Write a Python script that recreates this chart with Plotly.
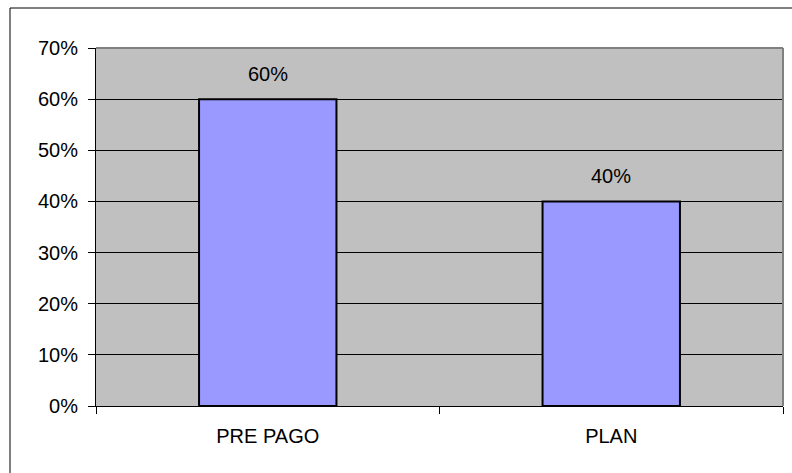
import plotly.graph_objects as go

categories = ["PRE PAGO", "PLAN"]
values = [0.60, 0.40]
labels = ["60%", "40%"]

W, H = 792, 473
L, R, T, B = 96, 9, 48, 67
pw, ph = W - L - R, H - T - B

fig = go.Figure()
fig.add_trace(go.Bar(
    x=categories, y=values,
    marker=dict(color="#9999FF", line=dict(color="#000000", width=2)),
    hoverinfo="skip",
))

for c, v, t in zip(categories, values, labels):
    fig.add_annotation(x=c, y=v, text=t, showarrow=False, yanchor="bottom",
                       yshift=12, font=dict(size=20, color="#000000"))

font = "Arial, Liberation Sans, sans-serif"
fig.update_layout(
    width=W, height=H,
    margin=dict(l=L, r=R, t=T, b=B, pad=0),
    paper_bgcolor="#FFFFFF",
    plot_bgcolor="#C0C0C0",
    font=dict(family=font, size=20, color="#000000"),
    bargap=0.6,
    showlegend=False,
    xaxis=dict(
        type="category", tickson="boundaries", ticks="outside", ticklen=7,
        tickcolor="#000000", tickwidth=1, showline=True, linecolor="#000000",
        linewidth=1, showgrid=False, tickfont=dict(size=20), fixedrange=True,
        ticklabelstandoff=12,
    ),
    yaxis=dict(
        range=[0, 0.7], dtick=0.1, tickformat=".0%", ticks="outside", ticklen=7,
        tickcolor="#000000", tickwidth=1, showline=True, linecolor="#000000",
        linewidth=1, showgrid=True, gridcolor="#000000", gridwidth=1,
        zeroline=False, tickfont=dict(size=20), fixedrange=True,
        ticklabelstandoff=6,
    ),
    shapes=[
        dict(type="line", xref="paper", yref="paper", x0=0, x1=1, y0=1, y1=1,
             line=dict(color="#808080", width=2)),
        dict(type="line", xref="paper", yref="paper", x0=1, x1=1, y0=0, y1=1,
             line=dict(color="#808080", width=2)),
        dict(type="rect", xref="paper", yref="paper",
             x0=(10 - L) / pw, x1=(W + 20 - L) / pw,
             y0=-(B + 20) / ph, y1=1 + (T - 8) / ph,
             line=dict(color="#000000", width=1), fillcolor="rgba(0,0,0,0)",
             layer="above"),
    ],
)

fig.write_html("out.html", config={"displayModeBar": False})
